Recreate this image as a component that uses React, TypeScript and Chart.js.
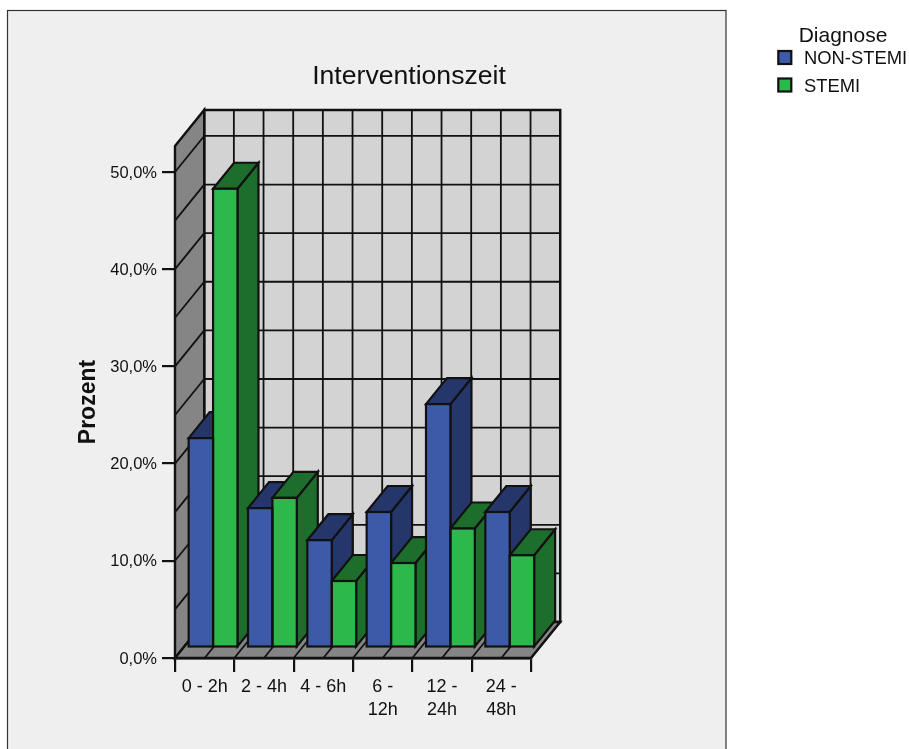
import React, { useEffect, useRef } from "react";
import { Chart, registerables } from "chart.js";

Chart.register(...registerables);

const categories: (string | string[])[] = ["0 - 2h", "2 - 4h", "4 - 6h", ["6 -", "12h"], ["12 -", "24h"], ["24 -", "48h"]];
const nonStemi = [21.55, 14.35, 11.05, 13.95, 25.05, 13.95];
const stemi = [47.2, 15.4, 6.85, 8.7, 12.25, 9.5];
const seriesNames = ["NON-STEMI", "STEMI"];
const legendTitle = "Diagnose";
const chartTitle = "Interventionszeit";
const axisTitle = "Prozent";
const yMax = 52.67;

const FONT = '"Liberation Sans", Arial, sans-serif';
const INK = "#111111";
const BLUE = "#3d5aa9";
const BLUE_DARK = "#25366b";
const GREEN = "#2db84b";
const GREEN_DARK = "#1d6e2d";

// Offset of the back wall from the front axes, and where bars sit inside that depth.
const WALL_DX = 29.2;
const WALL_DY = -36;
const BAR_INSET_X = 8.4;
const BAR_INSET_Y = -10.4;
const BAR_DX = 21;
const BAR_DY = -26;

function poly(ctx: CanvasRenderingContext2D, pts: number[][], fill: string, stroke = INK, width = 2.2) {
  ctx.beginPath();
  pts.forEach(([x, y], i) => (i ? ctx.lineTo(x, y) : ctx.moveTo(x, y)));
  ctx.closePath();
  ctx.fillStyle = fill;
  ctx.fill();
  ctx.lineJoin = "miter";
  ctx.strokeStyle = stroke;
  ctx.lineWidth = width;
  ctx.stroke();
}

function line(ctx: CanvasRenderingContext2D, x1: number, y1: number, x2: number, y2: number, width = 1.8) {
  ctx.beginPath();
  ctx.moveTo(x1, y1);
  ctx.lineTo(x2, y2);
  ctx.strokeStyle = INK;
  ctx.lineWidth = width;
  ctx.stroke();
}

const panelPlugin = {
  id: "panel",
  beforeDraw(chart: Chart) {
    const ctx = chart.ctx;
    ctx.save();
    ctx.fillStyle = "#efefef";
    ctx.fillRect(8, 11, 718, 740);
    ctx.strokeStyle = "#333333";
    ctx.lineWidth = 1.2;
    ctx.strokeRect(7.5, 10.5, 718.5, 745);
    ctx.restore();
  },
};

const wallsPlugin = {
  id: "walls",
  beforeDatasetsDraw(chart: Chart) {
    const ctx = chart.ctx;
    const { left, right, top, bottom } = chart.chartArea;
    const yScale = chart.scales.y;
    const xScale = chart.scales.x;
    ctx.save();

    // Back wall, left wall and floor
    poly(ctx, [[left + WALL_DX, top + WALL_DY], [right + WALL_DX, top + WALL_DY], [right + WALL_DX, bottom + WALL_DY], [left + WALL_DX, bottom + WALL_DY]], "#d3d3d3", INK, 2.4);
    poly(ctx, [[left, top], [left + WALL_DX, top + WALL_DY], [left + WALL_DX, bottom + WALL_DY], [left, bottom]], "#858585", INK, 2.4);
    poly(ctx, [[left, bottom], [left + WALL_DX, bottom + WALL_DY], [right + WALL_DX, bottom + WALL_DY], [right, bottom]], "#858585", INK, 2.4);

    // Horizontal grid on the wall every 5 %, carried across the left wall
    for (let v = 5; v <= 50; v += 5) {
      const y = yScale.getPixelForValue(v);
      line(ctx, left, y, left + WALL_DX, y + WALL_DY);
      line(ctx, left + WALL_DX, y + WALL_DY, right + WALL_DX, y + WALL_DY);
    }

    // Vertical grid every half category, carried across the floor
    for (let i = 0; i <= categories.length * 2; i++) {
      const x = xScale.getPixelForValue(i / 2 - 0.5);
      line(ctx, x, bottom, x + WALL_DX, bottom + WALL_DY);
      line(ctx, x + WALL_DX, bottom + WALL_DY, x + WALL_DX, top + WALL_DY);
    }

    // Side and top faces of the bars, painted left to right
    const metas = [chart.getDatasetMeta(0), chart.getDatasetMeta(1)];
    const shades = [BLUE_DARK, GREEN_DARK];
    for (let c = 0; c < categories.length; c++) {
      metas.forEach((meta, d) => {
        const bar = meta.data[c] as any;
        const l = bar.x - bar.width / 2 + BAR_INSET_X;
        const r = bar.x + bar.width / 2 + BAR_INSET_X;
        const t = bar.y + BAR_INSET_Y;
        const b = bar.base + BAR_INSET_Y;
        poly(ctx, [[r, t], [r + BAR_DX, t + BAR_DY], [r + BAR_DX, b + BAR_DY], [r, b]], shades[d]);
        poly(ctx, [[l, t], [l + BAR_DX, t + BAR_DY], [r + BAR_DX, t + BAR_DY], [r, t]], shades[d]);
      });
    }
    ctx.restore();

    // Front faces sit forward of the back wall by the bar inset
    ctx.save();
    ctx.translate(BAR_INSET_X, BAR_INSET_Y);
  },
  afterDatasetsDraw(chart: Chart) {
    const ctx = chart.ctx;
    // Outline the front faces on their exact edges so neighbouring bars share one line
    ctx.strokeStyle = INK;
    ctx.lineWidth = 2.2;
    [0, 1].forEach((d) => {
      chart.getDatasetMeta(d).data.forEach((el: any) => {
        ctx.strokeRect(el.x - el.width / 2, el.y, el.width, el.base - el.y);
      });
    });
    ctx.restore();
  },
};

const labelsPlugin = {
  id: "labels",
  afterDraw(chart: Chart) {
    const ctx = chart.ctx;
    ctx.save();
    ctx.fillStyle = INK;
    ctx.textBaseline = "alphabetic";

    ctx.font = `26.6px ${FONT}`;
    ctx.textAlign = "center";
    ctx.fillText(chartTitle, 409, 84);

    ctx.font = `21px ${FONT}`;
    ctx.fillText(legendTitle, 843, 42);

    ctx.font = `18.4px ${FONT}`;
    ctx.textAlign = "left";
    seriesNames.forEach((name, i) => {
      const y = 51 + i * 27.5;
      ctx.fillStyle = [BLUE, GREEN][i];
      ctx.strokeStyle = INK;
      ctx.lineWidth = 2.2;
      ctx.fillRect(778.3, y, 13, 13);
      ctx.strokeRect(778.3, y, 13, 13);
      ctx.fillStyle = INK;
      ctx.fillText(name, 804, y + 13);
    });
    ctx.restore();
  },
};

export default function App() {
  const ref = useRef<HTMLCanvasElement>(null);
  useEffect(() => {
    const chart = new Chart(ref.current!, {
      type: "bar",
      data: {
        labels: categories as any,
        datasets: [
          { label: seriesNames[0], data: nonStemi, backgroundColor: BLUE },
          { label: seriesNames[1], data: stemi, backgroundColor: GREEN },
        ].map((d) => ({
          ...d,
          borderWidth: 0,
          categoryPercentage: 0.8225,
          barPercentage: 1,
          clip: false as any,
        })),
      },
      options: {
        responsive: false,
        animation: false,
        devicePixelRatio: 1,
        layout: { padding: { left: 0, top: 146, right: 378, bottom: 0 } },
        plugins: { legend: { display: false }, title: { display: false }, tooltip: { enabled: false } },
        scales: {
          x: {
            afterFit: (s: any) => { s.height = 91; },
            grid: { drawOnChartArea: false, tickLength: 14, color: INK, lineWidth: 2.2 },
            border: { color: INK, width: 2.4 },
            ticks: {
              color: INK,
              font: { family: FONT, size: 18, lineHeight: 1.25 },
              maxRotation: 0,
              autoSkip: false,
              padding: 4,
            },
          },
          y: {
            min: 0,
            max: yMax,
            afterFit: (s: any) => { s.width = 175; },
            grid: { drawOnChartArea: false, tickLength: 13, color: INK, lineWidth: 2.2 },
            border: { color: INK, width: 2.4 },
            title: {
              display: true,
              text: axisTitle,
              color: INK,
              font: { family: FONT, size: 23, weight: "bold" },
              padding: { top: 75, bottom: 0 },
            },
            ticks: {
              stepSize: 10,
              includeBounds: false,
              color: INK,
              font: { family: FONT, size: 16.5 },
              padding: 5,
              labelOffset: 1,
              callback: (v: any) => `${Number(v).toFixed(1).replace(".", ",")}%`,
            },
          },
        },
      },
      plugins: [panelPlugin, wallsPlugin, labelsPlugin],
    } as any);
    return () => chart.destroy();
  }, []);
  return (
    <div style={{ position: "absolute", left: 0, top: 0, width: 909, height: 749, background: "#fff", overflow: "hidden" }}>
      <canvas ref={ref} width={909} height={749} style={{ display: "block" }} />
    </div>
  );
}
